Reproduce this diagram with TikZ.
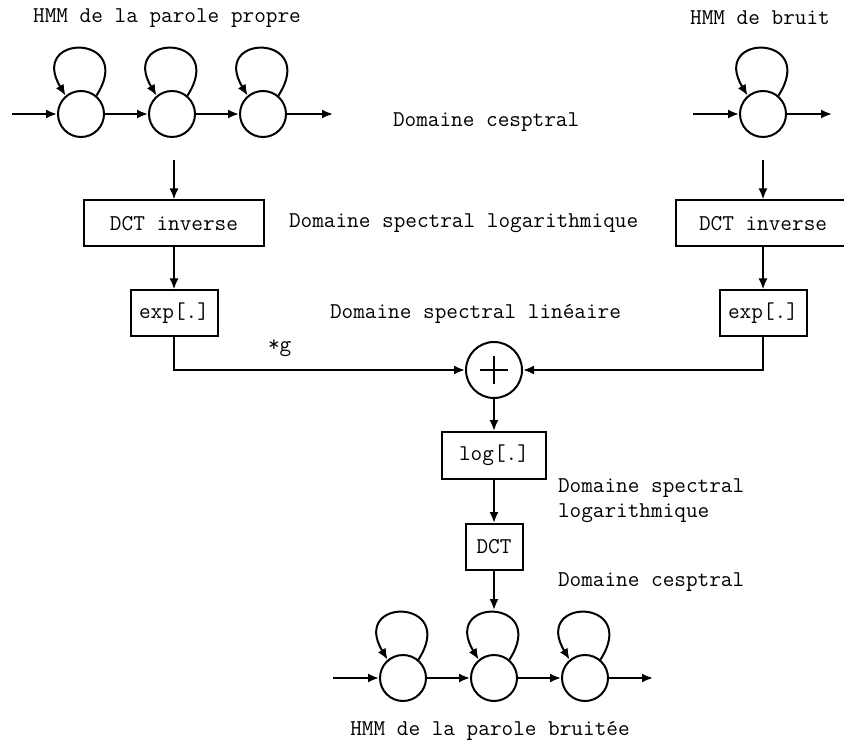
\documentclass[tikz,border=0pt]{standalone}
\usepackage{fontspec}
\usetikzlibrary{arrows.meta}
\tikzset{
  state/.style={draw,circle,minimum size=23pt,inner sep=0pt},
  block/.style={draw,rectangle,minimum height=23pt,inner sep=0pt},
  txt/.style={inner sep=0pt},
  selfloop/.style={->,to path={.. controls +(40,-62) and +(-38,-63) .. (\tikztotarget)}}
}
\begin{document}
\begin{tikzpicture}[x=0.5pt,y=-0.5pt,line width=1pt,>={Latex[length=5.5pt,width=4.5pt]},font=\ttfamily\fontsize{11.3}{12.5}\selectfont]
\useasboundingbox (0,0) rectangle (844,742);
\node[txt] (titleA) at (167,18) {HMM de la parole propre};
\node[txt] (titleB) at (760,18) {HMM de bruit};
\node[state] (a1) at (81,114) {};
\node[state] (a2) at (172,114) {};
\node[state] (a3) at (263,114) {};
\coordinate (aIn) at (12,114);
\coordinate (aOut) at (333,114);
\draw[->] (aIn) -- (a1);
\draw[->] (a1) -- (a2);
\draw[->] (a2) -- (a3);
\draw[->] (a3) -- (aOut);
\draw[selfloop] (a1.50) to (a1.130);
\draw[selfloop] (a2.50) to (a2.130);
\draw[selfloop] (a3.50) to (a3.130);
\node[state] (b1) at (763,114) {};
\coordinate (bIn) at (693,114);
\coordinate (bOut) at (832,114);
\draw[->] (bIn) -- (b1);
\draw[->] (b1) -- (bOut);
\draw[selfloop] (b1.50) to (b1.130);
\node[txt,anchor=west] (cepA) at (392,122) {Domaine cesptral};
\coordinate (aDown) at (174,160);
\coordinate (bDown) at (763,160);
\node[block,minimum width=90pt] (dctA) at (174,223.5) {DCT inverse};
\node[block,minimum width=87pt] (dctB) at (763,223.5) {DCT inverse};
\node[txt,anchor=west] (logA) at (288,223) {Domaine spectral logarithmique};
\draw[->] (aDown) -- (dctA);
\draw[->] (bDown) -- (dctB);
\node[block,minimum width=43.5pt] (expA) at (174,313.5) {exp[.]};
\node[block,minimum width=43.5pt] (expB) at (763,313.5) {exp[.]};
\node[txt,anchor=west] (linA) at (329,314) {Domaine spectral linéaire};
\draw[->] (dctA) -- (expA);
\draw[->] (dctB) -- (expB);
\node[draw,circle,minimum size=28pt,inner sep=0pt] (sum) at (494,370) {};
\draw[line width=0.7pt] ([xshift=-7pt]sum.center) -- ([xshift=7pt]sum.center);
\draw[line width=0.7pt] ([yshift=-7pt]sum.center) -- ([yshift=7pt]sum.center);
\node[txt,anchor=west] (gain) at (267,348) {*g};
\draw[->] (expA) |- (sum);
\draw[->] (expB) |- (sum);
\node[block,minimum width=52pt,minimum height=23.5pt] (logb) at (494,455.5) {log[.]};
\node[block,minimum width=28.5pt] (dctc) at (494,547) {DCT};
\node[txt,anchor=west,align=left] (logC) at (557,501) {Domaine spectral\\logarithmique};
\node[txt,anchor=west] (cepC) at (557,582) {Domaine cesptral};
\coordinate (cDown) at (494,610);
\draw[->] (sum) -- (logb);
\draw[->] (logb) -- (dctc);
\draw[->] (dctc) -- (cDown);
\node[state] (c1) at (403,678) {};
\node[state] (c2) at (494,678) {};
\node[state] (c3) at (585,678) {};
\coordinate (cIn) at (333,678);
\coordinate (cOut) at (653,678);
\draw[->] (cIn) -- (c1);
\draw[->] (c1) -- (c2);
\draw[->] (c2) -- (c3);
\draw[->] (c3) -- (cOut);
\draw[selfloop] (c1.50) to (c1.130);
\draw[selfloop] (c2.50) to (c2.130);
\draw[selfloop] (c3.50) to (c3.130);
\node[txt] (titleC) at (490,731) {HMM de la parole bruitée};
\end{tikzpicture}
\end{document}
